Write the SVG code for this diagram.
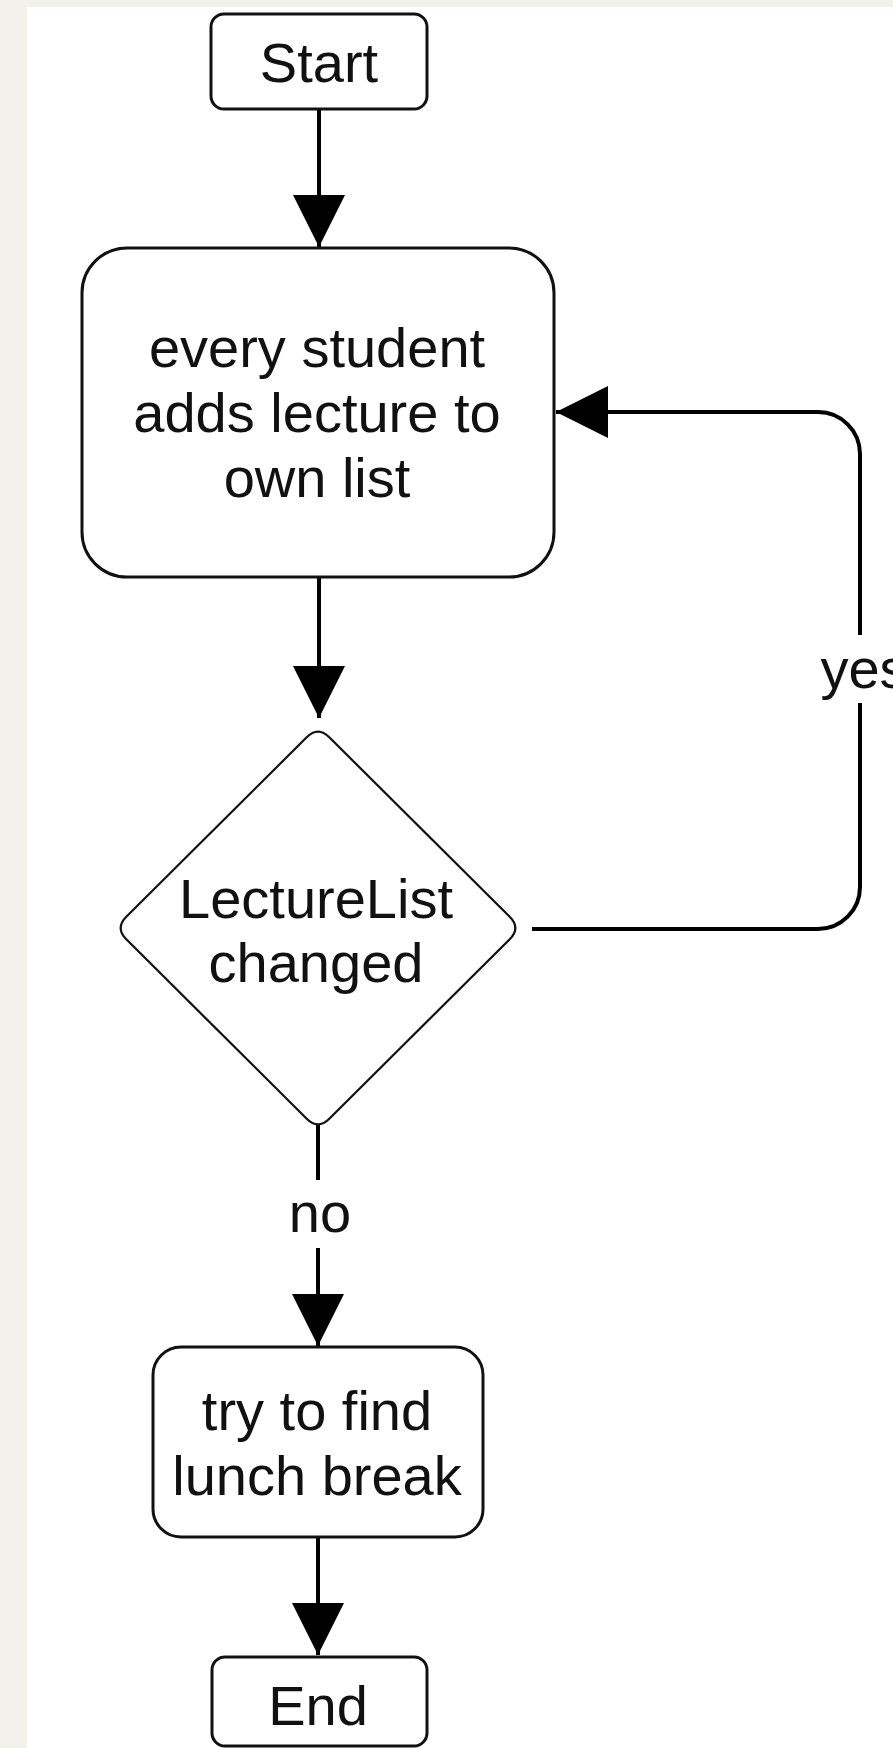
<svg xmlns="http://www.w3.org/2000/svg" width="893" height="1748" viewBox="0 0 893 1748">
  <style>
    .box { fill: #ffffff; stroke: #111111; stroke-width: 3; }
    .dia { fill: #ffffff; stroke: #111111; stroke-width: 2.2; }
    .lbl { font-family: "Liberation Sans", Arial, sans-serif; font-size: 56px; fill: #111111; text-anchor: middle; }
    .edge { fill: none; stroke: #000000; stroke-width: 4; }
  </style>
  <defs>
    <marker id="arrow" markerUnits="userSpaceOnUse" viewBox="0 0 52 52" markerWidth="52" markerHeight="52" refX="52" refY="26" orient="auto">
      <path d="M0,0 L52,26 L0,52 Z" fill="#000000"/>
    </marker>
  </defs>
  <rect x="0" y="0" width="893" height="1748" fill="#f2f2ea"/>
  <rect x="27" y="7" width="866" height="1741" fill="#ffffff"/>

  <g id="connectors">
    <path class="edge" d="M319,109 L319,247" marker-end="url(#arrow)"/>
    <path class="edge" d="M319,578 L319,718" marker-end="url(#arrow)"/>
    <path class="edge" d="M318,1124 L318,1180"/>
    <path class="edge" d="M318,1248 L318,1346" marker-end="url(#arrow)"/>
    <text class="lbl" x="320" y="1232">no</text>
    <path class="edge" d="M318,1537 L318,1655" marker-end="url(#arrow)"/>
    <path class="edge" d="M532,929 L818,929 A42,42 0 0 0 860,887 L860,703"/>
    <path class="edge" d="M860,635 L860,454 A42,42 0 0 0 818,412 L556,412" marker-end="url(#arrow)"/>
    <text class="lbl" x="864" y="688">yes</text>
  </g>

  <g id="start">
    <rect class="box" x="211" y="14" width="216" height="95" rx="13"/>
    <text class="lbl" x="319" y="82">Start</text>
  </g>

  <g id="add-lecture">
    <rect class="box" x="82" y="248" width="472" height="329" rx="45"/>
    <text class="lbl" x="317" y="367">every student</text>
    <text class="lbl" x="317" y="432">adds lecture to</text>
    <text class="lbl" x="317" y="497">own list</text>
  </g>

  <g id="changed">
    <path class="dia" d="M306.7,737.3 Q318,726 329.3,737.3 L509.7,916.7 Q521,928 509.7,939.3 L329.3,1118.7 Q318,1130 306.7,1118.7 L126.3,939.3 Q115,928 126.3,916.7 Z"/>
    <text class="lbl" x="316" y="918">LectureList</text>
    <text class="lbl" x="316" y="982">changed</text>
  </g>

  <g id="lunch">
    <rect class="box" x="153" y="1347" width="330" height="190" rx="28"/>
    <text class="lbl" x="317" y="1430">try to find</text>
    <text class="lbl" x="317" y="1495">lunch break</text>
  </g>

  <g id="end">
    <rect class="box" x="212" y="1657" width="215" height="89" rx="13"/>
    <text class="lbl" x="318" y="1725">End</text>
  </g>
</svg>
